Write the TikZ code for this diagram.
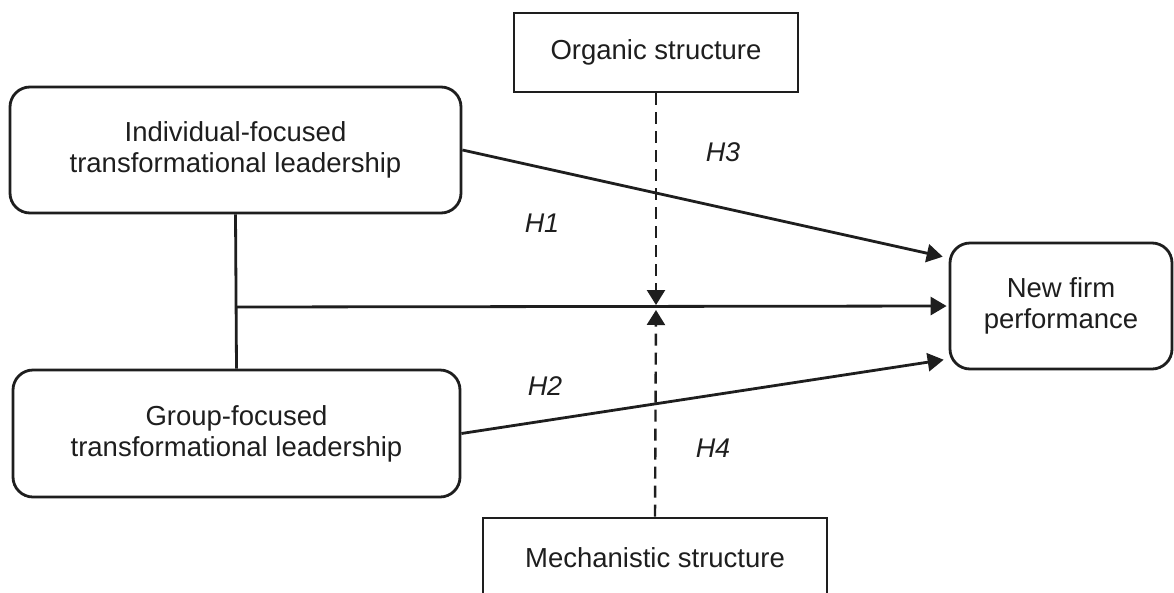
\documentclass[tikz,border=0pt]{standalone}
\usepackage{fontspec}
\setmainfont{Liberation Sans}
\usetikzlibrary{arrows.meta}
\definecolor{ink}{HTML}{1E1E1E}
\begin{document}
\begin{tikzpicture}[x=1pt,y=-1pt,
  ink/.style={draw=ink,line width=2.8pt},
  rbox/.style={ink,rounded corners=20pt,align=center,inner sep=0pt,
    font=\fontsize{27.5}{31}\selectfont,text=ink},
  sbox/.style={ink,align=center,inner sep=0pt,
    font=\fontsize{27.5}{31}\selectfont,text=ink},
  hyp/.style={font=\fontsize{27}{31}\selectfont\itshape,text=ink,inner sep=0pt},
  link/.style={ink,-{Triangle[length=16pt,width=18pt]}},
  modlink/.style={draw=ink,line width=2.4pt,dash pattern=on 12pt off 7pt,
    -{Triangle[length=15pt,width=18pt]}}]
  \clip (0,0) rectangle (1174,592);
  \fill[white] (0,0) rectangle (1174,592);

  % boxes
  \node[rbox,minimum width=451pt,minimum height=126pt] (ind) at (235.5,150)
    {Individual-focused\\transformational leadership};
  \node[rbox,minimum width=447pt,minimum height=127pt] (grp) at (236.5,433.5)
    {Group-focused\\transformational leadership};
  \node[rbox,minimum width=222pt,minimum height=126pt] (nf) at (1061,306)
    {New firm\\performance};
  \node[sbox,minimum width=284pt,minimum height=79pt] (org) at (656,52.5)
    {Organic structure};
  \node[sbox,minimum width=344pt,minimum height=79pt] (mech) at (655,557.5)
    {Mechanistic structure};

  % junction points
  \coordinate (j) at (236,307);
  \coordinate (m) at (656,307);

  % paths
  \draw[ink] (ind.south) -- (grp.north);
  \draw[link,shorten >=2pt] (j) -- (nf.west);
  \draw[link,shorten >=6pt] (ind.east) -- ([yshift=48pt]nf.west);
  \draw[link,shorten >=5pt] (grp.east) -- ([yshift=-53pt]nf.west);
  \draw[modlink] (org.south) -- ([yshift=2pt]m);
  \draw[modlink] (mech.north) -- ([yshift=-3pt]m);

  % hypothesis labels
  \node[hyp] (h1) at (542,223) {H1};
  \node[hyp] (h2) at (545,386) {H2};
  \node[hyp] (h3) at (723,152) {H3};
  \node[hyp] (h4) at (713,448) {H4};
\end{tikzpicture}
\end{document}
